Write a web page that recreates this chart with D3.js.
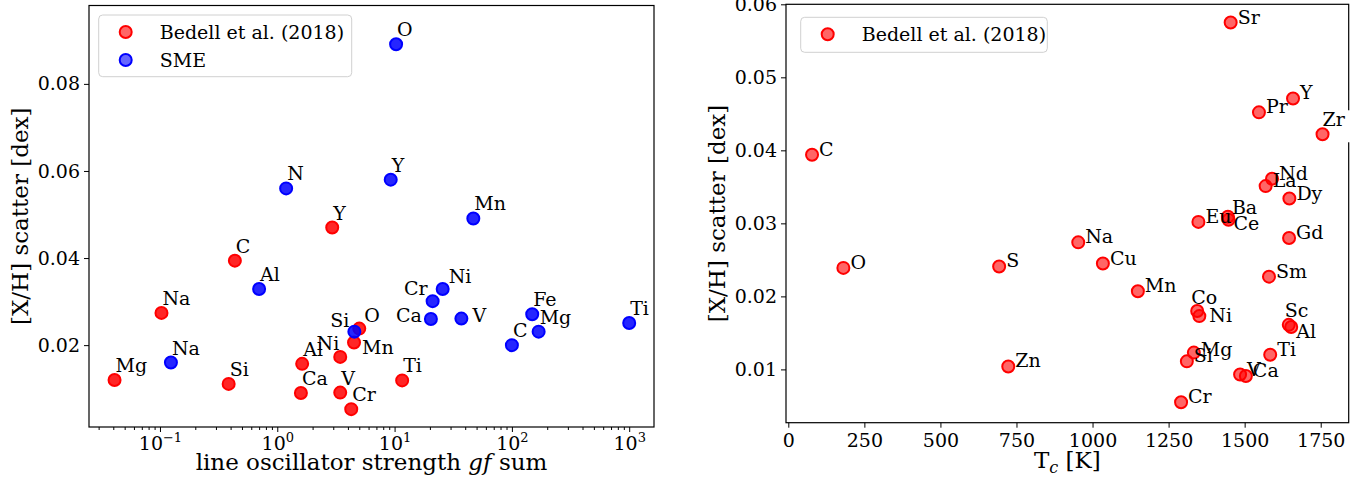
<!DOCTYPE html>
<html>
<head>
<meta charset="utf-8">
<script src="https://cdn.jsdelivr.net/npm/d3@7"></script>
<style>
  body { margin: 0; background: #fff; }
  svg text { font-family: "DejaVu Serif", serif; fill: #000; }
</style>
</head>
<body>
<svg id="chart" width="1367" height="482"></svg>
<script>
// --- left panel: scatter vs. summed gf ---
const bedellGfElems = ['Mg', 'Na', 'Si', 'C', 'Y', 'Al', 'Ca', 'Ni', 'V', 'Cr', 'Mn', 'O', 'Ti'];
const bedellGf = [0.041, 0.103, 0.385, 0.435, 2.94, 1.63, 1.59, 3.44, 3.44, 4.27, 4.51, 5.0, 11.6];
const bedellGfScatter = [0.0120, 0.0274, 0.0111, 0.0394, 0.0470, 0.0157, 0.0090, 0.0173, 0.0091, 0.0053, 0.0206, 0.0238, 0.0119];

const smeElems = ['Na', 'Al', 'N', 'Si', 'Y', 'O', 'Cr', 'Ca', 'Ni', 'V', 'Mn', 'C', 'Fe', 'Mg', 'Ti'];
const smeGf = [0.124, 0.70, 1.19, 4.54, 9.27, 10.3, 21.1, 20.4, 25.7, 37.1, 46.9, 100, 149, 169, 1000];
const smeScatter = [0.0160, 0.0329, 0.0560, 0.0231, 0.0580, 0.0891, 0.0301, 0.0260, 0.0329, 0.0261, 0.0491, 0.0200, 0.0271, 0.0231, 0.0251];

// --- right panel: scatter vs. condensation temperature ---
const tcElems = ['C', 'O', 'S', 'Zn', 'Na', 'Cu', 'Mn', 'Co', 'Ni', 'Mg', 'Si', 'Cr', 'Ti', 'V', 'Ca',
  'Sc', 'Al', 'Sm', 'Gd', 'Eu', 'Ba', 'Ce', 'Dy', 'La', 'Nd', 'Zr', 'Pr', 'Y', 'Sr'];
const tcValues = [78, 181, 693, 723, 953, 1034, 1149, 1344, 1351, 1333, 1310, 1291, 1584, 1485, 1504,
  1645, 1653, 1580, 1646, 1348, 1445, 1447, 1647, 1569, 1590, 1756, 1547, 1659, 1454];
const tcScatter = [0.0394, 0.0239, 0.0241, 0.0104, 0.0274, 0.0245, 0.0207, 0.0180, 0.0173, 0.0123, 0.0111, 0.0055, 0.0120, 0.0093, 0.0091,
  0.0161, 0.0158, 0.0227, 0.0280, 0.0302, 0.0309, 0.0305, 0.0334, 0.0351, 0.0361, 0.0422, 0.0452, 0.0471, 0.0575];

const leftYTicks = [0.02, 0.04, 0.06, 0.08];
const leftXTicks = [0.1, 1, 10, 100, 1000];
const rightYTicks = [0.01, 0.02, 0.03, 0.04, 0.05, 0.06];
const rightXTicks = [0, 250, 500, 750, 1000, 1250, 1500, 1750];
const legendLeft = ['Bedell et al. (2018)', 'SME'];
const legendRight = ['Bedell et al. (2018)'];

const RED = '#ff0000';
const BLUE = '#0000ff';

const svg = d3.select('#chart');

// Label nudges (dx, dy from marker centre, anchor)
const leftNudge = {
  'B:Ni': { dx: -1, dy: -7, anchor: 'end' },
  'B:Mn': { dx: 8, dy: 11 },
  'B:O': { dx: 5, dy: -7 },
  'S:Si': { dx: -5, dy: -5, anchor: 'end' },
  'S:Cr': { dx: -5, dy: -6, anchor: 'end' },
  'S:Ni': { dx: 6, dy: -6 },
  'S:Ca': { dx: -9, dy: 3, anchor: 'end' },
  'S:V': { dx: 11, dy: 3 }
};
const rightNudge = {
  'Co': { dx: -6, dy: -7, grey: true },
  'Sc': { dx: -4, dy: -8, grey: true },
  'Ba': { dx: 4, dy: -3, grey: true },
  'Ce': { dx: 5, dy: 10, grey: true },
  'Zr': { dx: 0, dy: -8, grey: true },
  'Al': { dx: 5, dy: 11 },
  'Ni': { dx: 10, dy: 6 },
  'Mg': { dx: 7, dy: 3 }
};

function styleAxis(g, size) {
  g.select('.domain').remove();
  g.selectAll('.tick line').attr('stroke', '#000').attr('stroke-width', 1);
  g.selectAll('text').style('font-size', size + 'px').attr('fill', '#000');
}

function drawLegend(x0, y0, w, h, entries) {
  const g = svg.append('g');
  g.append('rect')
    .attr('x', x0).attr('y', y0).attr('width', w).attr('height', h)
    .attr('rx', 4)
    .attr('fill', '#fff').attr('fill-opacity', 0.8)
    .attr('stroke', '#d0d0d0').attr('stroke-width', 1);
  entries.forEach((e, i) => {
    const cy = y0 + 17 + i * 28;
    g.append('circle')
      .attr('cx', x0 + 27).attr('cy', cy).attr('r', 6)
      .attr('fill', e.color).attr('fill-opacity', 0.6)
      .attr('stroke', e.color).attr('stroke-width', 2);
    g.append('text')
      .attr('x', x0 + 61).attr('y', cy + 6.5)
      .style('font-size', '19px')
      .text(e.label);
  });
}

// ================= LEFT PANEL =================
(function leftPanel() {
  const L = 89, R = 654, T = 5.5, B = 427;
  const x = d3.scaleLog().domain([0.02483, 1627]).range([L, R]);
  const y = d3.scaleLinear().domain([0.0012, 0.098]).range([B, T]);

  // minor ticks from the domain
  const minor = [];
  for (let e = -2; e <= 3; e++) {
    for (let m = 2; m <= 9; m++) {
      const v = m * Math.pow(10, e);
      if (v > x.domain()[0] && v < x.domain()[1]) minor.push(v);
    }
  }

  svg.append('g').attr('transform', `translate(0,${B})`)
    .call(d3.axisBottom(x).tickValues(minor).tickSize(3).tickFormat(''))
    .call(g => styleAxis(g, 19));

  const xAxis = svg.append('g').attr('transform', `translate(0,${B})`)
    .call(d3.axisBottom(x).tickValues(leftXTicks).tickSize(5))
    .call(g => styleAxis(g, 19));
  xAxis.selectAll('.tick text')
    .attr('y', 23).attr('dy', null)
    .text(null)
    .each(function (d) {
      const t = d3.select(this);
      t.append('tspan').text('10');
      t.append('tspan').attr('dy', -8).style('font-size', '13px')
        .text(String(Math.round(Math.log10(d))).replace('-', '\u2212'));
    });

  svg.append('g').attr('transform', `translate(${L},0)`)
    .call(d3.axisLeft(y).tickValues(leftYTicks).tickSize(5).tickPadding(4).tickFormat(d3.format('.2f')))
    .call(g => styleAxis(g, 19));

  svg.append('rect')
    .attr('x', L).attr('y', T).attr('width', R - L).attr('height', B - T)
    .attr('fill', 'none').attr('stroke', '#000').attr('stroke-width', 1.2);

  const bedell = bedellGfElems.map((el, i) => ({ el, x: bedellGf[i], y: bedellGfScatter[i], key: 'B:' + el }));
  const sme = smeElems.map((el, i) => ({ el, x: smeGf[i], y: smeScatter[i], key: 'S:' + el }));

  [[bedell, RED], [sme, BLUE]].forEach(([pts, col]) => {
    svg.append('g').selectAll('circle').data(pts).join('circle')
      .attr('cx', d => x(d.x)).attr('cy', d => y(d.y)).attr('r', 6)
      .attr('fill', col).attr('fill-opacity', 0.85)
      .attr('stroke', col).attr('stroke-width', 2);
  });

  svg.append('g').selectAll('text').data(bedell.concat(sme)).join('text')
    .each(function (d) {
      const n = leftNudge[d.key] || { dx: 1, dy: -8 };
      d3.select(this)
        .attr('x', x(d.x) + n.dx).attr('y', y(d.y) + n.dy)
        .attr('text-anchor', n.anchor || 'start');
    })
    .style('font-size', '19px')
    .text(d => d.el);

  drawLegend(98.7, 15, 253, 61.7, [
    { label: legendLeft[0], color: RED },
    { label: legendLeft[1], color: BLUE }
  ]);

  const xl = svg.append('text')
    .attr('x', (L + R) / 2).attr('y', 470)
    .attr('text-anchor', 'middle')
    .style('font-size', '23px');
  xl.append('tspan').text('line oscillator strength ');
  xl.append('tspan').style('font-style', 'italic').text('gf');
  xl.append('tspan').text(' sum');

  svg.append('text')
    .attr('transform', `translate(28,${(T + B) / 2}) rotate(-90)`)
    .attr('text-anchor', 'middle')
    .style('font-size', '23px')
    .text('[X/H] scatter [dex]');
})();

// ================= RIGHT PANEL =================
(function rightPanel() {
  const L = 786, R = 1348.7, T = 4.3, B = 422.7;
  const x = d3.scaleLinear().domain([-7.6, 1842]).range([L, R]);
  const y = d3.scaleLinear().domain([0.0027, 0.06]).range([B, T]);

  svg.append('g').attr('transform', `translate(0,${B})`)
    .call(d3.axisBottom(x).tickValues(rightXTicks).tickSize(5).tickFormat(d3.format('d')))
    .call(g => styleAxis(g, 19))
    .call(g => g.selectAll('.tick text').attr('y', 24).attr('dy', null));

  svg.append('g').attr('transform', `translate(${L},0)`)
    .call(d3.axisLeft(y).tickValues(rightYTicks).tickSize(5).tickPadding(4).tickFormat(d3.format('.2f')))
    .call(g => styleAxis(g, 19));

  svg.append('rect')
    .attr('x', L).attr('y', T).attr('width', R - L).attr('height', B - T)
    .attr('fill', 'none').attr('stroke', '#000').attr('stroke-width', 1.2);

  const pts = tcElems.map((el, i) => ({ el, x: tcValues[i], y: tcScatter[i] }));

  svg.append('g').selectAll('circle').data(pts).join('circle')
    .attr('cx', d => x(d.x)).attr('cy', d => y(d.y)).attr('r', 6)
    .attr('fill', RED).attr('fill-opacity', 0.6)
    .attr('stroke', RED).attr('stroke-width', 2);

  // white box behind the Zr label covers the spine
  const zr = pts.find(d => d.el === 'Zr');
  svg.append('rect')
    .attr('x', x(zr.x) + 18).attr('y', y(zr.y) - 24)
    .attr('width', 18).attr('height', 32)
    .attr('fill', '#fff');

  svg.append('g').selectAll('text').data(pts).join('text')
    .each(function (d) {
      const n = rightNudge[d.el] || { dx: 7, dy: 1 };
      d3.select(this)
        .attr('x', x(d.x) + n.dx).attr('y', y(d.y) + n.dy)
        .attr('fill', n.grey ? '#555' : '#000');
    })
    .style('font-size', '19px')
    .text(d => d.el);

  drawLegend(800.7, 17.3, 246.6, 35, [{ label: legendRight[0], color: RED }]);

  const xl = svg.append('text')
    .attr('x', (L + R) / 2).attr('y', 468)
    .attr('text-anchor', 'middle')
    .style('font-size', '23px');
  xl.append('tspan').text('T');
  xl.append('tspan').attr('dy', 5).style('font-size', '16px').style('font-style', 'italic').text('c');
  xl.append('tspan').attr('dy', -5).text(' [K]');

  svg.append('text')
    .attr('transform', `translate(725,${(T + B) / 2}) rotate(-90)`)
    .attr('text-anchor', 'middle')
    .style('font-size', '23px')
    .text('[X/H] scatter [dex]');
})();
</script>
</body>
</html>
